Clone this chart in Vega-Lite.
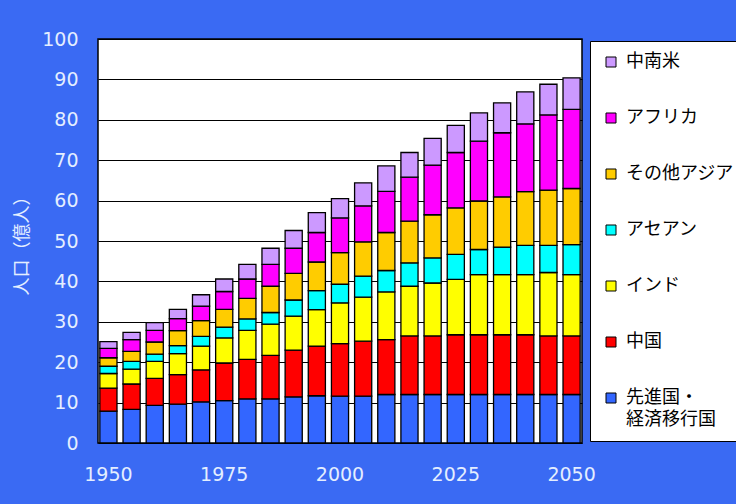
{
  "$schema": "https://vega.github.io/schema/vega-lite/v6.json",
  "autosize": {"type": "none"},
  "width": 484,
  "height": 404,
  "padding": {"left": 98, "top": 39, "right": 154, "bottom": 61},
  "background": "#3a6af3",
  "datasets": {
    "regions": [
      {"region": "先進国・経済移行国", "rank": 1},
      {"region": "中国", "rank": 2},
      {"region": "インド", "rank": 3},
      {"region": "アセアン", "rank": 4},
      {"region": "その他アジア", "rank": 5},
      {"region": "アフリカ", "rank": 6},
      {"region": "中南米", "rank": 7}
    ]
  },
  "data": {
    "values": [
      {"year": 1950, "先進国・経済移行国": 7.9, "中国": 5.7, "インド": 3.6, "アセアン": 1.8, "その他アジア": 2.1, "アフリカ": 2.3, "中南米": 1.7},
      {"year": 1955, "先進国・経済移行国": 8.3, "中国": 6.3, "インド": 3.7, "アセアン": 1.9, "その他アジア": 2.5, "アフリカ": 2.9, "中南米": 1.8},
      {"year": 1960, "先進国・経済移行国": 9.3, "中国": 6.7, "インド": 4.2, "アセアン": 1.8, "その他アジア": 3.0, "アフリカ": 2.9, "中南米": 1.9},
      {"year": 1965, "先進国・経済移行国": 9.6, "中国": 7.3, "インド": 5.2, "アセアン": 2.0, "その他アジア": 3.7, "アフリカ": 3.0, "中南米": 2.3},
      {"year": 1970, "先進国・経済移行国": 10.2, "中国": 7.9, "インド": 5.9, "アセアン": 2.4, "その他アジア": 3.9, "アフリカ": 3.6, "中南米": 2.8},
      {"year": 1975, "先進国・経済移行国": 10.5, "中国": 9.3, "インド": 6.2, "アセアン": 2.7, "その他アジア": 4.4, "アフリカ": 4.4, "中南米": 3.1},
      {"year": 1980, "先進国・経済移行国": 10.9, "中国": 9.8, "インド": 7.2, "アセアン": 2.8, "その他アジア": 5.1, "アフリカ": 4.8, "中南米": 3.6},
      {"year": 1985, "先進国・経済移行国": 10.9, "中国": 10.8, "インド": 7.7, "アセアン": 2.9, "その他アジア": 6.5, "アフリカ": 5.4, "中南米": 4.0},
      {"year": 1990, "先進国・経済移行国": 11.4, "中国": 11.6, "インド": 8.4, "アセアン": 4.0, "その他アジア": 6.6, "アフリカ": 6.2, "中南米": 4.4},
      {"year": 1995, "先進国・経済移行国": 11.7, "中国": 12.3, "インド": 9.0, "アセアン": 4.7, "その他アジア": 7.1, "アフリカ": 7.3, "中南米": 4.9},
      {"year": 2000, "先進国・経済移行国": 11.6, "中国": 13.0, "インド": 10.1, "アセアン": 4.6, "その他アジア": 7.8, "アフリカ": 8.6, "中南米": 4.8},
      {"year": 2005, "先進国・経済移行国": 11.6, "中国": 13.6, "インド": 10.9, "アセアン": 5.2, "その他アジア": 8.5, "アフリカ": 8.9, "中南米": 5.7},
      {"year": 2010, "先進国・経済移行国": 12.0, "中国": 13.6, "インド": 11.8, "アセアン": 5.3, "その他アジア": 9.4, "アフリカ": 10.2, "中南米": 6.3},
      {"year": 2015, "先進国・経済移行国": 12.0, "中国": 14.5, "インド": 12.3, "アセアン": 5.8, "その他アジア": 10.3, "アフリカ": 10.9, "中南米": 6.1},
      {"year": 2020, "先進国・経済移行国": 12.0, "中国": 14.5, "インド": 13.1, "アセアン": 6.2, "その他アジア": 10.7, "アフリカ": 12.3, "中南米": 6.6},
      {"year": 2025, "先進国・経済移行国": 12.0, "中国": 14.8, "インド": 13.7, "アセアン": 6.2, "その他アジア": 11.5, "アフリカ": 13.7, "中南米": 6.7},
      {"year": 2030, "先進国・経済移行国": 12.0, "中国": 14.8, "インド": 14.9, "アセアン": 6.2, "その他アジア": 12.0, "アフリカ": 14.8, "中南米": 7.0},
      {"year": 2035, "先進国・経済移行国": 12.0, "中国": 14.8, "インド": 14.9, "アセアン": 6.8, "その他アジア": 12.4, "アフリカ": 15.9, "中南米": 7.4},
      {"year": 2040, "先進国・経済移行国": 12.0, "中国": 14.8, "インド": 14.9, "アセアン": 7.2, "その他アジア": 13.3, "アフリカ": 16.8, "中南米": 7.9},
      {"year": 2045, "先進国・経済移行国": 12.0, "中国": 14.5, "インド": 15.7, "アセアン": 6.7, "その他アジア": 13.7, "アフリカ": 18.6, "中南米": 7.6},
      {"year": 2050, "先進国・経済移行国": 12.0, "中国": 14.5, "インド": 15.2, "アセアン": 7.4, "その他アジア": 13.9, "アフリカ": 19.6, "中南米": 7.8}
    ]
  },
  "transform": [
    {"fold": ["先進国・経済移行国", "中国", "インド", "アセアン", "その他アジア", "アフリカ", "中南米"], "as": ["region", "pop"]},
    {"lookup": "region", "from": {"data": {"name": "regions"}, "key": "region", "fields": ["rank"]}}
  ],
  "mark": {"type": "bar", "stroke": "#000000", "strokeWidth": 1.3},
  "encoding": {
    "x": {
      "field": "year",
      "type": "ordinal",
      "scale": {"paddingInner": 0.26, "paddingOuter": 0.08},
      "axis": {
        "values": [1950, 1975, 2000, 2025, 2050],
        "labelAngle": 0,
        "ticks": false,
        "domain": false,
        "grid": false,
        "title": null,
        "labelPadding": 22,
        "labelFont": "DejaVu Sans",
        "labelFontSize": 19,
        "labelColor": "#e4eeff"
      }
    },
    "y": {
      "field": "pop",
      "type": "quantitative",
      "stack": "zero",
      "scale": {"domain": [0, 100], "nice": false},
      "axis": {
        "values": [0, 10, 20, 30, 40, 50, 60, 70, 80, 90, 100],
        "ticks": false,
        "domain": false,
        "grid": true,
        "gridColor": "#000000",
        "gridWidth": 1.2,
        "gridOpacity": 1,
        "labelPadding": 20,
        "labelFont": "DejaVu Sans",
        "labelFontSize": 19,
        "labelColor": "#e4eeff",
        "title": "人口（億人）",
        "titleFont": "Noto Sans CJK JP",
        "titleFontSize": 18,
        "titleFontWeight": "normal",
        "titleColor": "#e4eeff",
        "titlePadding": 10
      }
    },
    "color": {
      "field": "region",
      "type": "nominal",
      "scale": {
        "domain": ["中南米", "アフリカ", "その他アジア", "アセアン", "インド", "中国", "先進国・経済移行国"],
        "range": ["#cc99ff", "#ff00ff", "#ffcc00", "#00ffff", "#ffff00", "#ff0000", "#3366ff"]
      },
      "legend": {
        "orient": "none",
        "legendX": 492,
        "legendY": 2,
        "title": null,
        "fillColor": "#ffffff",
        "strokeColor": "#000000",
        "padding": 12,
        "symbolType": "square",
        "symbolSize": 100,
        "symbolStrokeColor": "#000000",
        "symbolStrokeWidth": 1,
        "symbolOpacity": 1,
        "labelFont": "Noto Sans CJK JP",
        "labelFontSize": 18,
        "labelColor": "#000000",
        "labelOffset": 6,
        "labelLimit": 300,
        "rowPadding": 38,
        "labelExpr": "datum.label === '先進国・経済移行国' ? ['先進国・', '経済移行国'] : datum.label"
      }
    },
    "order": {"field": "rank", "type": "quantitative", "sort": "ascending"}
  },
  "config": {
    "view": {"fill": "#ffffff", "stroke": "#000000", "strokeWidth": 1.5},
    "style": {"guide-label": {"lineHeight": 22}}
  }
}
